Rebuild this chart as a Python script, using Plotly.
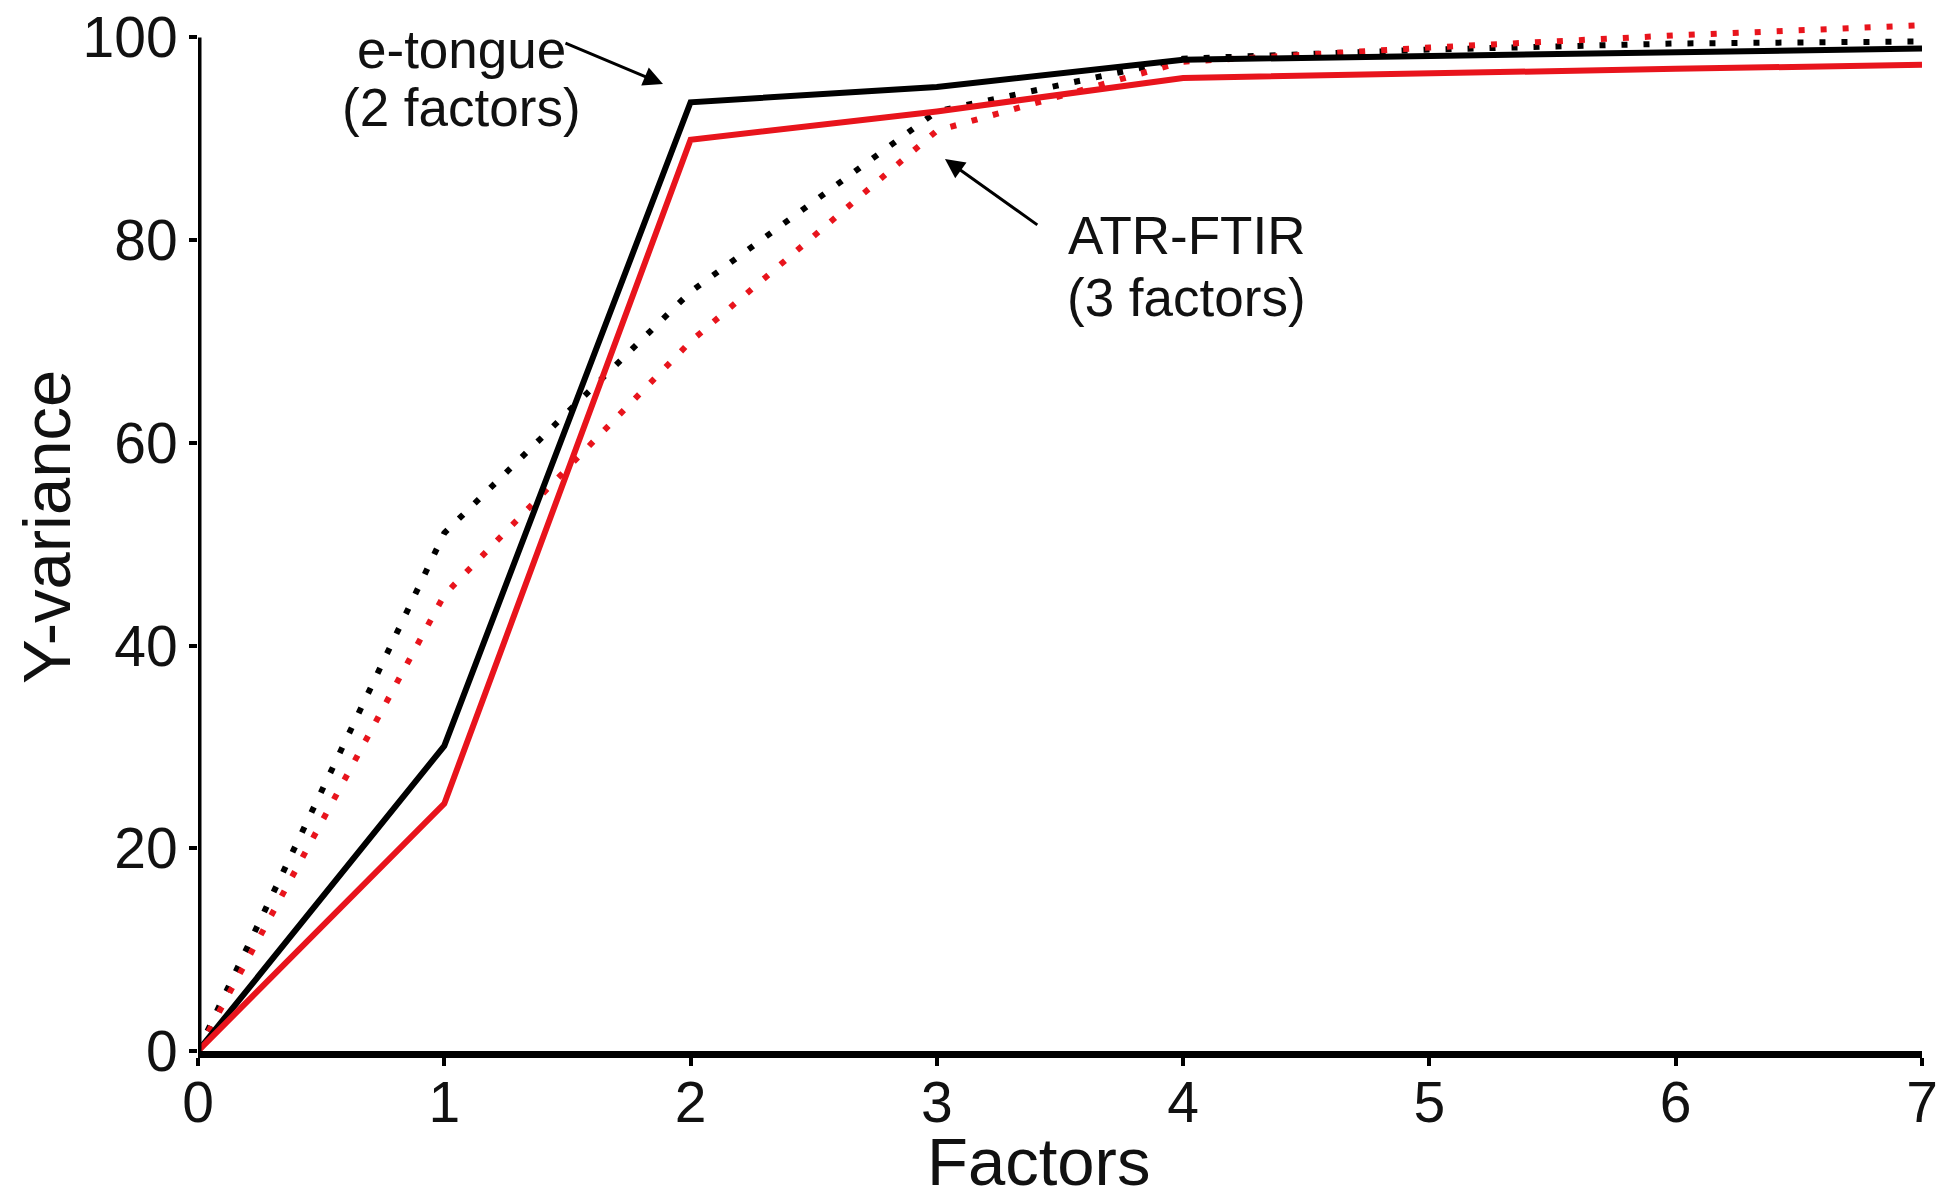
import plotly.graph_objects as go

factors = [0, 1, 2, 3, 4, 5, 6, 7]
etongue_cal = [0, 30.1, 93.6, 95.1, 97.8, 98.2, 98.6, 98.9]
ftir_cal = [0, 24.4, 89.9, 92.7, 96.0, 96.5, 96.9, 97.3]
etongue_val = [0, 51.1, 74.9, 92.7, 97.9, 98.8, 99.4, 99.6]
ftir_val = [0, 45.0, 70.0, 90.8, 97.6, 99.0, 100.2, 101.2]

x_ticks = [0, 1, 2, 3, 4, 5, 6, 7]
y_ticks = [0, 20, 40, 60, 80, 100]

BLACK = "#000000"
RED = "#e8141c"
TXT = "#111111"
FONT = "Liberation Sans, Arial, Helvetica, sans-serif"

fig = go.Figure()
fig.add_trace(go.Scatter(x=factors, y=etongue_val, mode="lines",
                         line=dict(color=BLACK, width=6, dash="6px,16px")))
fig.add_trace(go.Scatter(x=factors, y=ftir_val, mode="lines",
                         line=dict(color=RED, width=6, dash="6px,16px")))
fig.add_trace(go.Scatter(x=factors, y=etongue_cal, mode="lines",
                         line=dict(color=BLACK, width=6)))
fig.add_trace(go.Scatter(x=factors, y=ftir_cal, mode="lines",
                         line=dict(color=RED, width=6)))

# y axis line only up to 100
fig.add_shape(type="line", xref="x", yref="y", x0=0, x1=0, y0=0, y1=100,
              line=dict(color=BLACK, width=7))

fig.add_annotation(x=1.888, y=95.4, ax=1.486, ay=99.5, axref="x", ayref="y",
                   xref="x", yref="y", text="", showarrow=True,
                   arrowhead=2, arrowsize=1.3, arrowwidth=3, arrowcolor=BLACK)
fig.add_annotation(x=3.033, y=88.0, ax=3.414, ay=81.4, axref="x", ayref="y",
                   xref="x", yref="y", text="", showarrow=True,
                   arrowhead=2, arrowsize=1.3, arrowwidth=3, arrowcolor=BLACK)

label_lines = [("e-tongue", 1.068, 98.8), ("(2 factors)", 1.068, 93.05),
               ("ATR-FTIR", 4.015, 80.47), ("(3 factors)", 4.015, 74.36)]
for txt, lx, ly in label_lines:
    fig.add_annotation(x=lx, y=ly, xref="x", yref="y", text=txt, showarrow=False,
                       font=dict(family=FONT, size=53, color=TXT),
                       xanchor="center", yanchor="middle")

# axis titles
fig.add_annotation(x=0.4878, y=-0.1058, xref="paper", yref="paper", text="Factors",
                   showarrow=False, font=dict(family=FONT, size=67, color=TXT),
                   xanchor="center", yanchor="middle")
fig.add_annotation(x=-0.0876, y=0.502, xref="paper", yref="paper", text="Y-variance",
                   showarrow=False, textangle=-90,
                   font=dict(family=FONT, size=67, color=TXT),
                   xanchor="center", yanchor="middle")

fig.update_layout(
    width=1944, height=1191,
    margin=dict(l=198, r=22, t=7, b=139.5, autoexpand=False),
    paper_bgcolor="white", plot_bgcolor="white",
    showlegend=False,
    font=dict(family=FONT, color=TXT),
)
fig.update_xaxes(range=[0, 7], tickvals=x_ticks, ticktext=[str(v) for v in x_ticks],
                 showgrid=False, zeroline=False, showline=True,
                 linecolor=BLACK, linewidth=7,
                 ticks="outside", ticklen=8, tickwidth=4, tickcolor=BLACK,
                 ticklabelstandoff=-12,
                 tickfont=dict(family=FONT, size=57, color=TXT))
fig.update_yaxes(range=[0, 103], tickvals=y_ticks, ticktext=[str(v) for v in y_ticks],
                 showgrid=False, zeroline=False, showline=False,
                 ticks="outside", ticklen=8, tickwidth=4, tickcolor=BLACK,
                 tickfont=dict(family=FONT, size=57, color=TXT))

fig.write_html("out.html")
